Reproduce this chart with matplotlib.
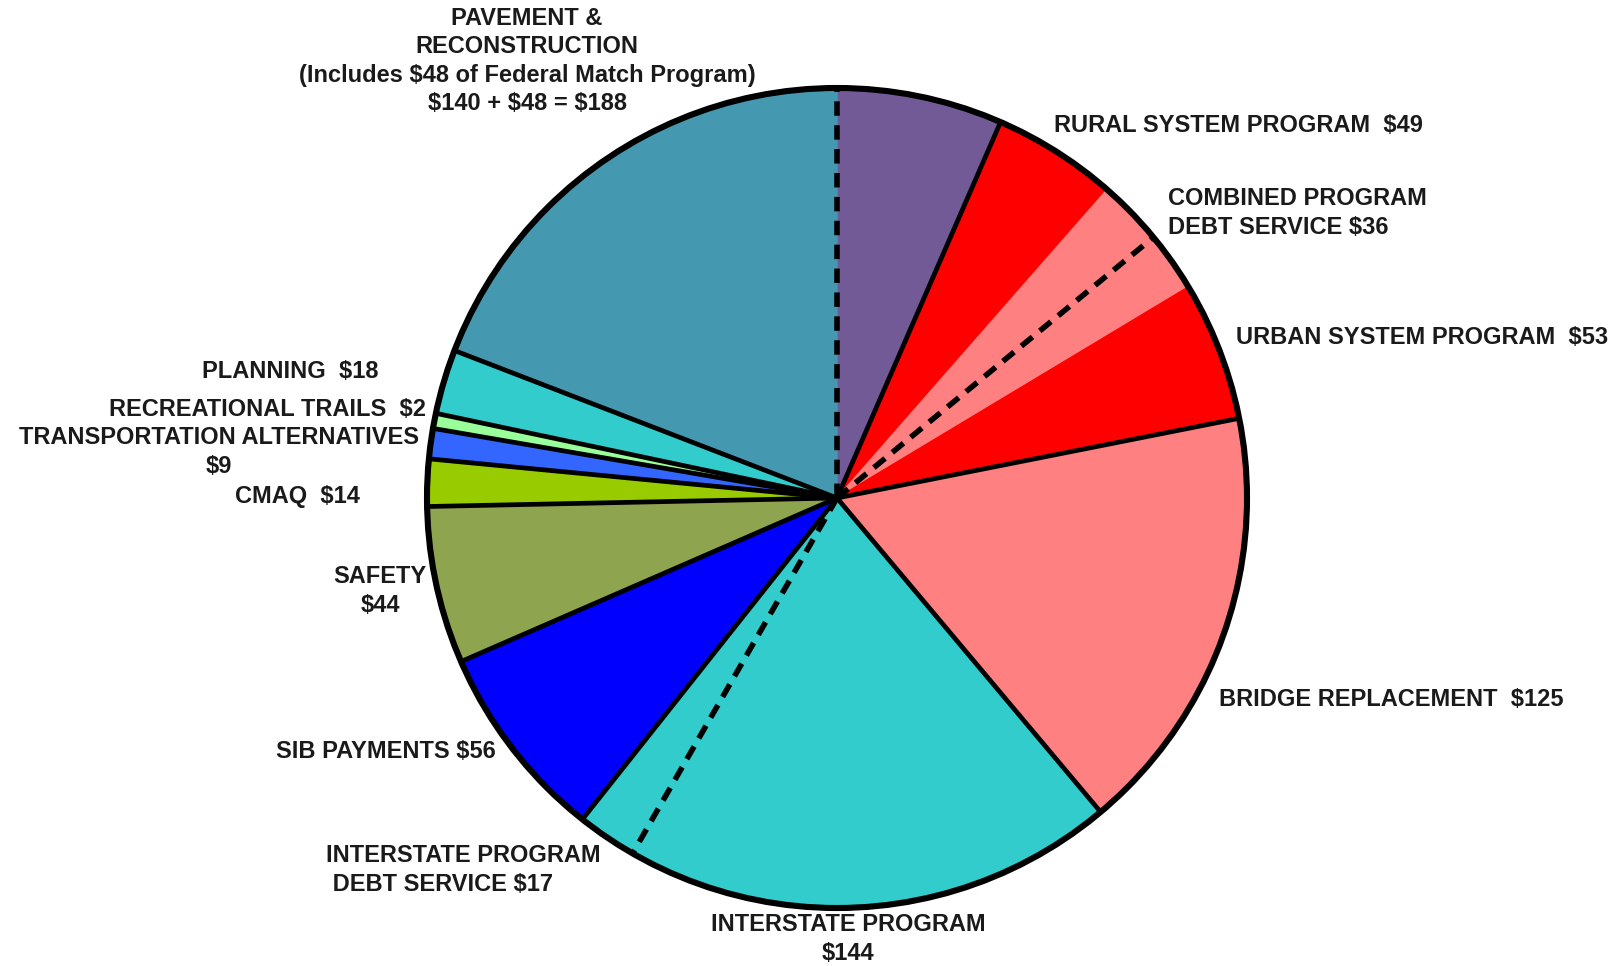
import matplotlib
matplotlib.use("Agg")
import matplotlib.pyplot as plt
import numpy as np

# ---------------- data ----------------
categories = [
    "Federal Match Program", "Rural System Program", "Rural Debt Service",
    "Urban Debt Service", "Urban System Program", "Bridge Replacement",
    "Interstate Program", "Interstate Program Debt Service", "SIB Payments",
    "Safety", "CMAQ", "Transportation Alternatives", "Recreational Trails",
    "Planning", "Pavement & Reconstruction",
]
# slice sizes as drawn in the picture (clockwise from 12 o'clock)
slice_values = [49.3, 37.1, 19.5, 17.8, 41.5, 128.3, 146.6, 17.8,
                58.9, 46.8, 14.0, 9.0, 4.5, 19.2, 144.5]
slice_colors = ["#725A96", "#FF0000", "#FF8080", "#FF8080", "#FF0000",
                "#FF8080", "#33CCCC", "#33CCCC", "#0000FF", "#8FA44E",
                "#99CC00", "#3366FF", "#99FF99", "#33CCCC", "#4499B0"]
# style of the radial line after each slice
edge_after = ["solid", "none", "dashed", "none", "solid", "solid", "dashed",
              "solid", "solid", "solid", "solid", "solid", "solid", "solid",
              "dashed"]

label_texts = [
    "PAVEMENT &\nRECONSTRUCTION\n(Includes $48 of Federal Match Program)\n$140 + $48 = $188",
    "RURAL SYSTEM PROGRAM  $49",
    "COMBINED PROGRAM\nDEBT SERVICE $36",
    "URBAN SYSTEM PROGRAM  $53",
    "BRIDGE REPLACEMENT  $125",
    "INTERSTATE PROGRAM\n$144",
    "INTERSTATE PROGRAM\n DEBT SERVICE $17",
    "SIB PAYMENTS $56",
    "SAFETY\n$44",
    "CMAQ  $14",
    "TRANSPORTATION ALTERNATIVES\n$9",
    "RECREATIONAL TRAILS  $2",
    "PLANNING  $18",
]

# ---------------- layout ----------------
W, H = 1617, 966
CX, CY, R = 837, 498, 410          # pixel coords (y from top)
# (x, y_top, ha, multialign)
label_layout = [
    (527, 61, "center", "center"),
    (1054, 126, "left", "left"),
    (1168, 213, "left", "left"),
    (1236, 338, "left", "left"),
    (1219, 699, "left", "left"),
    (848, 939, "center", "center"),
    (326, 870, "left", "left"),
    (496, 752, "right", "right"),
    (380, 591, "center", "center"),
    (360, 497, "right", "right"),
    (219, 452, "center", "center"),
    (426, 409, "right", "right"),
    (378, 372, "right", "right"),
]

plt.rcParams["font.family"] = ["Liberation Sans", "DejaVu Sans"]

fig = plt.figure(figsize=(W / 100, H / 100), dpi=100)
ax = fig.add_axes([0, 0, 1, 1])
cy_d = H - CY

wedges, _ = ax.pie(slice_values, colors=slice_colors, startangle=90,
                   counterclock=False, center=(CX, cy_d), radius=R,
                   wedgeprops=dict(linewidth=1.0))
for w in wedges:
    w.set_edgecolor(w.get_facecolor())

total = float(np.sum(slice_values))
cum = np.cumsum(slice_values) / total * 360.0
for ang, style in zip(cum, edge_after):
    if style == "none":
        continue
    th = np.deg2rad(ang)
    x2 = CX + R * np.sin(th)
    y2 = cy_d + R * np.cos(th)
    if style == "solid":
        ax.plot([CX, x2], [cy_d, y2], color="black", lw=3.4,
                solid_capstyle="round", zorder=3)
    else:
        ax.plot([CX, x2], [cy_d, y2], color="black", lw=4.0,
                linestyle=(0, (2.6, 1.7)), dash_capstyle="butt", zorder=3)

ax.add_patch(plt.Circle((CX, cy_d), R, fill=False, lw=4.4,
                        edgecolor="black", zorder=4))

for txt, (x, y, ha, ma) in zip(label_texts, label_layout):
    ax.text(x, H - y, txt, ha=ha, va="center", multialignment=ma,
            fontsize=17, fontweight="bold", color="#1a1a1a",
            linespacing=1.28)

ax.set_xlim(0, W)
ax.set_ylim(0, H)
ax.set_aspect("equal", adjustable="box")
ax.axis("off")

fig.savefig("out.png", dpi=100, facecolor="white")
